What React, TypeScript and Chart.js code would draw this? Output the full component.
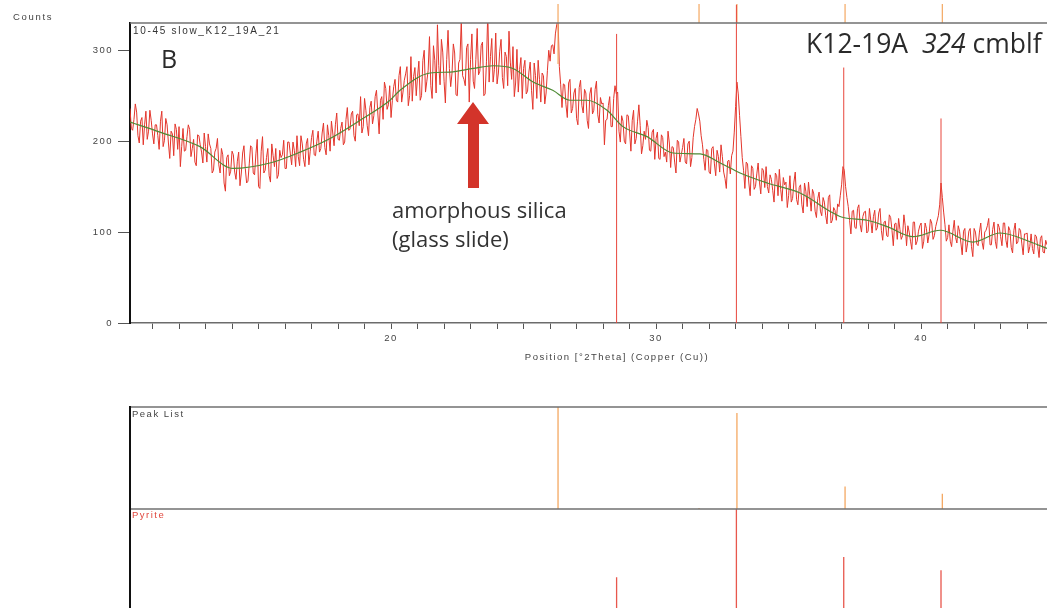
import React, { useEffect, useRef } from "react";
import { Chart, registerables } from "chart.js";

Chart.register(...registerables);

// ---------- data ----------
const X_MIN = 10.15;
const X_MAX = 46.9;
const SCAN_START = 10.15;
const SCAN_STEP = 0.05;
const Y_MAX = 330;

// measured counts, one row per degree (10.15 ... 44.75, step 0.05)
const COUNTS = [
  236, 214, 212, 224, 241, 232, 206, 198, 222, 226, 196, 218, 233, 202, 211, 234, 223, 208, 197, 218,
  218, 206, 191, 222, 233, 194, 201, 225, 218, 198, 181, 211, 208, 184, 219, 213, 191, 216, 172, 194,
  214, 189, 190, 205, 218, 213, 183, 192, 202, 177, 173, 207, 206, 196, 188, 176, 209, 194, 177, 208,
  197, 192, 165, 168, 188, 192, 203, 174, 165, 192, 185, 154, 145, 182, 185, 162, 167, 189, 185, 166,
  158, 178, 188, 151, 165, 187, 195, 170, 154, 156, 175, 195, 193, 165, 163, 186, 202, 150, 148, 189,
  205, 165, 168, 182, 192, 162, 155, 197, 184, 172, 192, 159, 163, 190, 182, 185, 201, 170, 170, 199,
  199, 186, 174, 199, 190, 172, 206, 183, 173, 206, 197, 180, 172, 197, 203, 174, 189, 204, 212, 185,
  184, 200, 211, 188, 192, 209, 220, 193, 185, 218, 206, 189, 222, 209, 195, 218, 231, 202, 201, 214,
  221, 196, 199, 224, 237, 212, 213, 230, 233, 206, 200, 229, 230, 217, 249, 209, 216, 247, 234, 217,
  206, 237, 244, 219, 228, 249, 256, 231, 208, 245, 249, 224, 265, 258, 235, 240, 261, 226, 245, 260,
  268, 245, 243, 272, 282, 243, 254, 267, 274, 282, 239, 250, 293, 244, 271, 281, 250, 271, 288, 245,
  250, 289, 300, 254, 266, 278, 315, 261, 247, 305, 289, 253, 328, 283, 262, 312, 298, 266, 242, 290,
  322, 280, 260, 275, 307, 297, 251, 250, 286, 290, 333, 272, 268, 261, 303, 307, 243, 290, 318, 266,
  258, 290, 324, 273, 277, 305, 309, 250, 252, 288, 342, 265, 293, 313, 265, 279, 319, 263, 275, 299,
  312, 270, 258, 298, 293, 261, 321, 287, 268, 304, 249, 264, 301, 254, 279, 292, 247, 280, 289, 252,
  255, 276, 287, 256, 235, 286, 272, 247, 289, 268, 243, 275, 272, 241, 253, 278, 300, 288, 305, 306,
  296, 318, 328, 335, 282, 262, 237, 263, 262, 240, 226, 264, 268, 231, 236, 253, 258, 225, 218, 259,
  267, 239, 231, 257, 253, 223, 214, 252, 259, 230, 234, 257, 266, 229, 220, 248, 241, 242, 196, 223,
  224, 239, 249, 216, 216, 247, 261, 252, 254, 211, 199, 228, 222, 200, 197, 229, 228, 210, 189, 223,
  234, 197, 203, 222, 240, 217, 186, 195, 211, 202, 223, 215, 190, 189, 210, 213, 180, 203, 210, 181,
  180, 207, 204, 183, 188, 177, 211, 198, 171, 194, 193, 177, 165, 201, 199, 177, 185, 193, 203, 177,
  175, 197, 200, 172, 182, 204, 216, 224, 236, 230, 222, 206, 196, 180, 168, 191, 190, 166, 164, 192,
  194, 175, 162, 190, 183, 166, 196, 183, 166, 159, 148, 178, 179, 164, 184, 189, 210, 238, 265, 252,
  228, 205, 182, 168, 148, 177, 175, 154, 140, 173, 170, 147, 150, 164, 176, 155, 142, 170, 168, 149,
  172, 150, 143, 163, 158, 146, 133, 165, 162, 140, 169, 147, 134, 160, 152, 155, 127, 140, 162, 133,
  137, 155, 166, 136, 130, 149, 152, 130, 121, 154, 145, 128, 155, 140, 123, 147, 142, 123, 116, 137,
  144, 123, 118, 138, 133, 118, 109, 138, 141, 110, 113, 127, 124, 113, 131, 128, 140, 152, 172, 168,
  150, 138, 128, 113, 98, 123, 124, 105, 104, 126, 130, 108, 100, 117, 122, 123, 99, 101, 126, 113,
  99, 117, 124, 102, 105, 121, 126, 102, 91, 111, 112, 96, 95, 119, 116, 102, 85, 109, 110, 92,
  115, 103, 92, 96, 119, 107, 85, 107, 100, 90, 81, 111, 111, 86, 90, 101, 107, 110, 82, 90,
  110, 104, 88, 97, 114, 110, 92, 96, 106, 112, 118, 130, 154, 138, 122, 108, 90, 94, 108, 90,
  84, 101, 113, 94, 88, 107, 101, 88, 75, 101, 104, 78, 87, 101, 104, 84, 73, 104, 100, 87,
  85, 100, 110, 89, 81, 100, 102, 107, 115, 86, 86, 103, 111, 90, 82, 109, 105, 95, 85, 110,
  110, 91, 83, 106, 102, 83, 77, 102, 110, 87, 89, 104, 102, 87, 75, 98, 98, 99, 77, 84,
  98, 82, 76, 97, 95, 84, 72, 93, 96, 78, 77, 91, 86,
];

// fitted background (green)
const BG_POS = [
  10.15, 11.28, 12.79, 14.04, 15.43, 16.57, 17.7, 18.83, 19.96, 20.34,
  21.47, 22.23, 23.1, 23.85, 24.6, 25.36, 26.1, 26.75, 27.4, 28.15,
  28.75, 29.66, 30.64, 31.66, 32.42, 33.17, 34.19, 35.43, 36.68, 37.06,
  37.96, 38.72, 39.7, 40.72, 41.96, 42.98, 44.23, 44.75,
];
const BG_COUNTS = [
  221, 210, 194, 170, 176, 188, 203, 223, 245, 256,
  275, 276, 280, 283, 280, 265, 256, 245, 245, 234,
  216, 205, 187, 186, 176, 165, 154, 143, 121, 116,
  113, 106, 95, 102, 89, 99, 88, 82,
];

// peak list
const PEAK_POS = [26.3, 31.62, 33.05, 37.13, 40.8];
const PEAK_REL = [100, 1, 94, 22, 15];
const PEAK_MARK_LOW = [285, 330, 330, 330, 330];
const MARKER_TOP = 351;
const UNMATCHED_POS = [26.3, 31.62];

// pyrite reference pattern
const PYRITE_POS = [28.51, 33.03, 37.08, 40.75];
const PYRITE_MAIN = [318, 350, 281, 225];
const PYRITE_REL = [33, 100, 53, 40];

const X_LABELS = [20, 30, 40];

// ---------- helpers ----------
function sticks(pos: number[], lo: number[] | number, hi: number[]) {
  const out: any[] = [];
  pos.forEach((p, i) => {
    out.push({ x: p, y: Array.isArray(lo) ? lo[i] : lo });
    out.push({ x: p, y: hi[i] });
    out.push({ x: p, y: null });
  });
  return out;
}

const AXIS_FONT = { family: "'Liberation Sans', Arial, sans-serif", size: 9.5 };

const spacingPlugin = {
  id: "spacing",
  beforeDraw(chart: any) {
    (chart.ctx as any).letterSpacing = "1.5px";
  },
};

const topFramePlugin = {
  id: "topFrame",
  afterDatasetsDraw(chart: any) {
    const { ctx, chartArea } = chart;
    ctx.save();
    ctx.strokeStyle = "#707070";
    ctx.lineWidth = 1.5;
    ctx.beginPath();
    ctx.moveTo(chartArea.left, chartArea.top);
    ctx.lineTo(chartArea.right, chartArea.top);
    ctx.stroke();
    ctx.restore();
  },
};

const panelFramePlugin = {
  id: "panelFrame",
  afterDraw(chart: any) {
    const { ctx, chartArea } = chart;
    ctx.save();
    ctx.strokeStyle = "#707070";
    ctx.lineWidth = 1.5;
    ctx.beginPath();
    ctx.moveTo(chartArea.left, chartArea.top);
    ctx.lineTo(chartArea.right, chartArea.top);
    ctx.stroke();
    ctx.strokeStyle = "#111";
    ctx.lineWidth = 2;
    ctx.beginPath();
    ctx.moveTo(chartArea.left, chartArea.top - 1);
    ctx.lineTo(chartArea.left, chartArea.bottom + 2);
    ctx.stroke();
    ctx.restore();
  },
};

const CANVAS_W = 1110;

export default function App() {
  const mainRef = useRef<HTMLCanvasElement>(null);
  const peakRef = useRef<HTMLCanvasElement>(null);
  const pyrRef = useRef<HTMLCanvasElement>(null);

  useEffect(() => {
    const charts: Chart[] = [];

    const main = new Chart(mainRef.current as HTMLCanvasElement, {
      type: "line",
      data: {
        datasets: [
          {
            label: "Background",
            data: BG_POS.map((x, i) => ({ x, y: BG_COUNTS[i] })),
            borderColor: "#4e8b35",
            borderWidth: 1.2,
            pointRadius: 0,
            cubicInterpolationMode: "monotone",
            order: 0,
          } as any,
          {
            label: "Unmatched peaks",
            data: UNMATCHED_POS.map((x) => ({ x, y: MARKER_TOP + 1.5 })),
            showLine: false,
            pointStyle: "triangle",
            rotation: 180,
            pointRadius: 2.5,
            backgroundColor: "#555",
            borderColor: "#555",
            borderWidth: 0,
            clip: false,
            order: 0,
          } as any,
          {
            label: "Pyrite",
            data: sticks(PYRITE_POS, 0, PYRITE_MAIN),
            borderColor: "#e8463c",
            borderWidth: 1,
            pointRadius: 0,
            spanGaps: false,
            clip: false,
            order: 1,
          } as any,
          {
            label: "Peak markers",
            data: sticks(PEAK_POS, PEAK_MARK_LOW, PEAK_POS.map(() => MARKER_TOP)),
            borderColor: "#f4a862",
            borderWidth: 1.2,
            pointRadius: 0,
            spanGaps: false,
            clip: false,
            order: 2,
          } as any,
          {
            label: "Counts",
            data: COUNTS.map((y, i) => ({ x: SCAN_START + i * SCAN_STEP, y })),
            borderColor: "#e3352b",
            borderWidth: 1,
            pointRadius: 0,
            tension: 0,
            order: 3,
          } as any,
        ],
      },
      options: {
        responsive: false,
        animation: false,
        events: [],
        layout: { padding: { top: 23, right: CANVAS_W - 1104, left: 0, bottom: 0 } },
        plugins: { legend: { display: false }, tooltip: { enabled: false } },
        scales: {
          x: {
            type: "linear",
            min: X_MIN,
            max: X_MAX,
            ticks: {
              stepSize: 1,
              autoSkip: false,
              maxRotation: 0,
              includeBounds: false,
              padding: 4,
              color: "#444",
              font: AXIS_FONT,
              callback: (v: any) => (X_LABELS.includes(Math.round(Number(v) * 100) / 100) ? String(v) : ""),
            },
            grid: { drawOnChartArea: false, drawTicks: true, tickLength: 6, tickColor: "#555" },
            border: { display: true, color: "#6c6c6c", width: 1.5 },
            title: {
              display: true,
              text: "Position [°2Theta] (Copper (Cu))",
              color: "#444",
              font: AXIS_FONT,
              padding: { top: 0, bottom: 5.3 },
            },
            afterFit: (s: any) => {
              s.height = 45;
            },
          },
          y: {
            type: "linear",
            min: 0,
            max: Y_MAX,
            ticks: { stepSize: 100, includeBounds: false, padding: 5, color: "#444", font: AXIS_FONT },
            grid: { drawOnChartArea: false, drawTicks: true, tickLength: 12, tickColor: "#555" },
            border: { display: true, color: "#111", width: 2 },
            afterFit: (s: any) => {
              s.width = 130;
            },
          },
        },
      } as any,
      plugins: [spacingPlugin, topFramePlugin],
    });
    charts.push(main);

    const panelOptions = () =>
      ({
        responsive: false,
        animation: false,
        events: [],
        layout: { padding: { top: 2, bottom: 2, left: 130, right: CANVAS_W - 1104 } },
        plugins: { legend: { display: false }, tooltip: { enabled: false } },
        scales: {
          x: { type: "linear", min: X_MIN, max: X_MAX, display: false },
          y: { type: "linear", min: 0, max: 100, display: false },
        },
      } as any);

    const peak = new Chart(peakRef.current as HTMLCanvasElement, {
      type: "line",
      data: {
        datasets: [
          {
            label: "Peak List",
            data: sticks(PEAK_POS, 0, PEAK_REL),
            borderColor: "#f4a862",
            borderWidth: 1.3,
            pointRadius: 0,
            spanGaps: false,
          } as any,
        ],
      },
      options: panelOptions(),
      plugins: [panelFramePlugin],
    });
    charts.push(peak);

    const pyr = new Chart(pyrRef.current as HTMLCanvasElement, {
      type: "line",
      data: {
        datasets: [
          {
            label: "Pyrite",
            data: sticks(PYRITE_POS, 0, PYRITE_REL),
            borderColor: "#e8574d",
            borderWidth: 1.3,
            pointRadius: 0,
            spanGaps: false,
          } as any,
        ],
      },
      options: panelOptions(),
      plugins: [panelFramePlugin],
    });
    charts.push(pyr);

    return () => {
      charts.forEach((c) => c.destroy());
    };
  }, []);

  const small: React.CSSProperties = {
    position: "absolute",
    fontFamily: "'Liberation Sans', Arial, sans-serif",
    fontSize: 9.5,
    lineHeight: 1,
    letterSpacing: "1.5px",
    color: "#444",
    whiteSpace: "nowrap",
  };
  const big: React.CSSProperties = {
    position: "absolute",
    fontFamily: "'Open Sans', sans-serif",
    lineHeight: 1,
    color: "#2a2a2a",
    whiteSpace: "nowrap",
  };

  return (
    <div
      style={{
        position: "fixed",
        left: 0,
        top: 0,
        width: 1047,
        height: 608,
        overflow: "hidden",
        background: "#fff",
      }}
    >
      <canvas
        ref={mainRef}
        width={CANVAS_W}
        height={368}
        style={{ position: "absolute", left: 0, top: 0, width: CANVAS_W, height: 368 }}
      />
      <canvas
        ref={peakRef}
        width={CANVAS_W}
        height={106}
        style={{ position: "absolute", left: 0, top: 405, width: CANVAS_W, height: 106 }}
      />
      <canvas
        ref={pyrRef}
        width={CANVAS_W}
        height={106}
        style={{ position: "absolute", left: 0, top: 507, width: CANVAS_W, height: 106 }}
      />

      <div style={{ ...small, left: 13, top: 12, letterSpacing: "1.7px" }}>Counts</div>
      <div style={{ ...small, left: 133, top: 26, fontSize: 10, letterSpacing: "1.7px", color: "#333" }}>
        10-45 slow_K12_19A_21
      </div>
      <div style={{ ...small, left: 132, top: 409 }}>Peak List</div>
      <div style={{ ...small, left: 132, top: 510, color: "#e0463c" }}>Pyrite</div>

      <div style={{ ...big, left: 161, top: 46, fontSize: 25 }}>B</div>
      <div style={{ ...big, left: 806, top: 29.5, fontSize: 26.5 }}>
        K12-19A&nbsp;&nbsp;<span style={{ fontStyle: "italic" }}>324</span> cmblf
      </div>
      <div style={{ ...big, left: 392, top: 197.5, fontSize: 22, color: "#333" }}>amorphous silica</div>
      <div style={{ ...big, left: 392, top: 226.5, fontSize: 22, color: "#333" }}>(glass slide)</div>

      <svg
        width={1047}
        height={608}
        style={{ position: "absolute", left: 0, top: 0, pointerEvents: "none" }}
      >
        <polygon
          points="473,102 489,124 479,124 479,188 468,188 468,124 457,124"
          fill="#d3342a"
        />
      </svg>
    </div>
  );
}
